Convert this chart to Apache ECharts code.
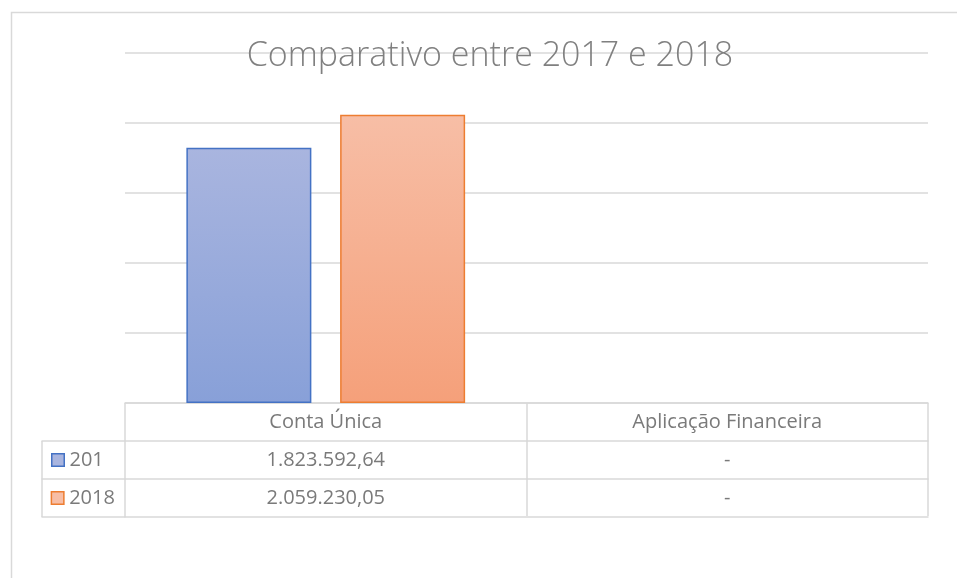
<!DOCTYPE html>
<html>
<head>
<meta charset="utf-8">
<script src="https://cdn.jsdelivr.net/npm/echarts@6/dist/echarts.min.js"></script>
<style>
  html, body { margin: 0; padding: 0; background: #fff; }
  #chart { width: 957px; height: 578px; }
</style>
</head>
<body>
<div id="chart"></div>
<script>
// dados do gráfico
var categorias = ["Conta Única", "Aplicação Financeira"];
var nomesSeries = ["201", "2018"];
var valores2017 = [1823592.64, null];
var valores2018 = [2059230.05, null];
var titulo = "Comparativo entre 2017 e 2018";

var corTexto = "#7a7a7a";
var corLinha = "#d9d9d9";
var fonte = "'Open Sans', sans-serif";

function formatar(v) {
  if (v === null || v === 0) return "-";
  var partes = v.toFixed(2).split(".");
  partes[0] = partes[0].replace(/\B(?=(\d{3})+(?!\d))/g, ".");
  return partes[0] + "," + partes[1];
}

function gradiente(c1, c2) {
  return new echarts.graphic.LinearGradient(0, 0, 0, 1, [
    { offset: 0, color: c1 },
    { offset: 1, color: c2 }
  ]);
}

// largura do texto, para alinhar a legenda à esquerda dentro da célula
var ctx = document.createElement("canvas").getContext("2d");
ctx.font = "20px " + fonte;
function larguraTexto(t) {
  return ctx.measureText(t).width;
}

var azulTopo = "#a9b5df", azulBase = "#88a0d8", azulBorda = "#4472c4";
var laranjaTopo = "#f7bea6", laranjaBase = "#f5a07a", laranjaBorda = "#ed7d31";

var labelTabela = {
  color: corTexto,
  fontFamily: fonte,
  fontSize: 20,
  lineHeight: 20,
  margin: 9,
  interval: 0
};

var linhaTabela = { show: true, onZero: false, lineStyle: { color: corLinha, width: 1.5 } };

// eixo de linha da tabela (grid principal)
function eixoLinha(offset, formatter) {
  return {
    type: "category",
    gridIndex: 0,
    position: "bottom",
    offset: offset,
    data: categorias,
    axisLine: linhaTabela,
    axisTick: { show: false },
    axisLabel: formatter
      ? Object.assign({}, labelTabela, { formatter: formatter })
      : { show: false }
  };
}

// eixo da coluna de legenda (grid 1)
function eixoLegenda(offset, idx, ticks) {
  var rich = {
    q0: { width: 11, height: 11, backgroundColor: azulTopo, borderColor: azulBorda, borderWidth: 1.5 },
    q1: { width: 11, height: 11, backgroundColor: laranjaTopo, borderColor: laranjaBorda, borderWidth: 1.5 },
    t: { padding: [0, 0, 0, 6], color: corTexto, fontFamily: fonte, fontSize: 20, lineHeight: 20 }
  };
  if (idx !== null) {
    rich.s = { width: Math.max(0, 45 - larguraTexto(nomesSeries[idx])), height: 10 };
  }
  return {
    type: "category",
    gridIndex: 1,
    position: "bottom",
    offset: offset,
    data: [""],
    axisLine: linhaTabela,
    axisTick: ticks
      ? { show: true, length: 76, lineStyle: { color: corLinha, width: 1.5 } }
      : { show: false },
    axisLabel: idx === null ? { show: false } : Object.assign({}, labelTabela, {
      formatter: function () {
        return "{q" + idx + "|}{t|" + nomesSeries[idx] + "}{s|}";
      },
      rich: rich
    })
  };
}

var chart = echarts.init(document.getElementById("chart"));

var option = {
  animation: false,
  title: {
    text: titulo,
    left: 490,
    top: 41,
    padding: 0,
    textAlign: "center",
    textStyle: {
      color: "#808080",
      fontFamily: fonte,
      fontSize: 34,
      fontWeight: 300,
      lineHeight: 31
    }
  },
  graphic: [
    {
      type: "rect",
      left: 9,
      top: 10,
      shape: { width: 1000, height: 700 },
      style: { fill: "none", stroke: corLinha, lineWidth: 1.5 },
      silent: true,
      z: -10
    }
  ],
  grid: [
    { left: 125, right: 29, top: 53, bottom: 175 },
    { left: 42, right: 832, top: 53, bottom: 175 }
  ],
  xAxis: [
    {
      type: "category",
      gridIndex: 0,
      data: categorias,
      axisLine: linhaTabela,
      axisTick: { show: true, length: 113, interval: 0, lineStyle: { color: corLinha, width: 1.5 } },
      axisLabel: labelTabela
    },
    eixoLinha(38, function (v, i) { return formatar(valores2017[i]); }),
    eixoLinha(76, function (v, i) { return formatar(valores2018[i]); }),
    eixoLinha(114, null),
    eixoLegenda(38, 0, true),
    eixoLegenda(76, 1, false),
    eixoLegenda(114, null, false)
  ],
  yAxis: [
    {
      type: "value",
      gridIndex: 0,
      min: 0,
      max: 2500000,
      interval: 500000,
      axisLine: { show: false },
      axisTick: { show: false },
      axisLabel: { show: false },
      splitLine: { lineStyle: { color: corLinha, width: 1.5 } }
    },
    {
      type: "value",
      gridIndex: 1,
      show: false
    }
  ],
  series: [
    {
      name: nomesSeries[0],
      type: "bar",
      xAxisIndex: 0,
      yAxisIndex: 0,
      data: valores2017,
      barWidth: 125,
      barGap: "23%",
      itemStyle: {
        color: gradiente(azulTopo, azulBase),
        borderColor: azulBorda,
        borderWidth: 1.5
      }
    },
    {
      name: nomesSeries[1],
      type: "bar",
      xAxisIndex: 0,
      yAxisIndex: 0,
      data: valores2018,
      barWidth: 125,
      barGap: "23%",
      itemStyle: {
        color: gradiente(laranjaTopo, laranjaBase),
        borderColor: laranjaBorda,
        borderWidth: 1.5
      }
    }
  ]
};

chart.setOption(option);
</script>
</body>
</html>
